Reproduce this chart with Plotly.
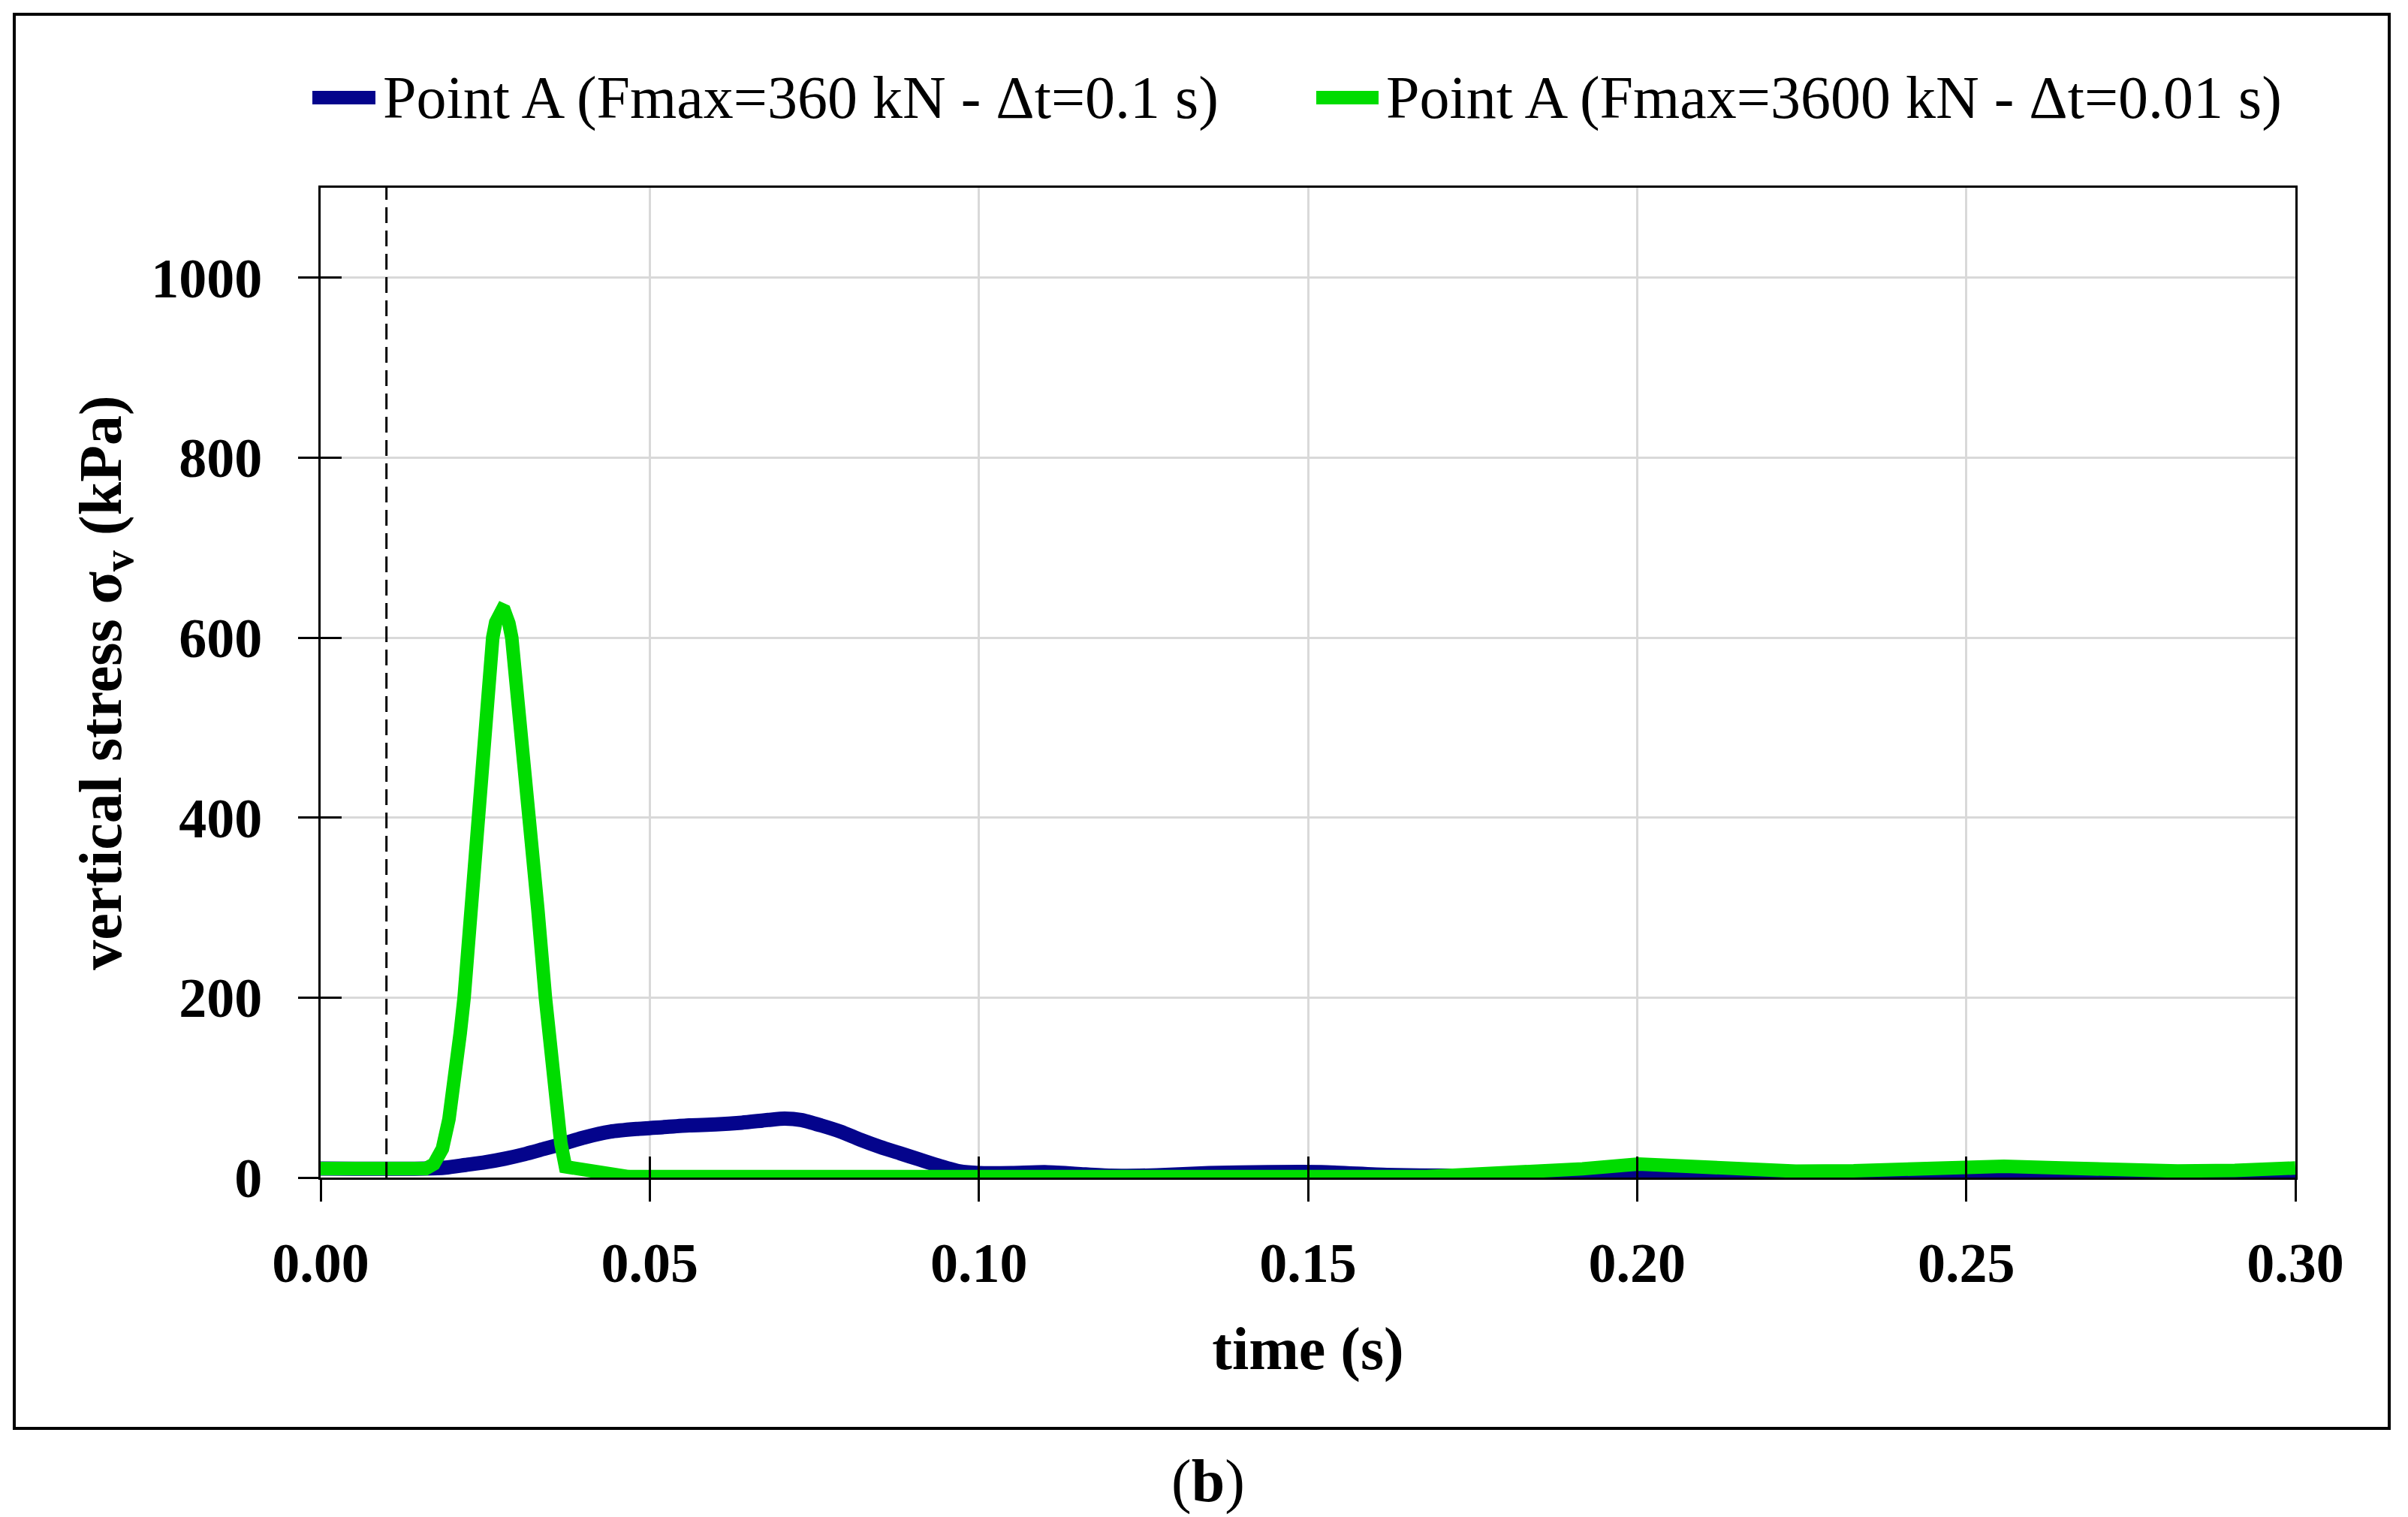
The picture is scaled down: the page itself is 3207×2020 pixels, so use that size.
import plotly.graph_objects as go

# ---------------- data ----------------
series_names = ["Point A (Fmax=360 kN - Δt=0.1 s)", "Point A (Fmax=3600 kN - Δt=0.01 s)"]
series_colors = ["#04048C", "#00DC00"]

t_blue = [0, 0.016, 0.019, 0.022, 0.025, 0.028, 0.031, 0.034, 0.037, 0.040, 0.044,
          0.048, 0.052, 0.056, 0.060, 0.064, 0.068, 0.0705, 0.073, 0.076, 0.079,
          0.082, 0.085, 0.088, 0.091, 0.094, 0.097, 0.100, 0.105, 0.110, 0.115,
          0.120, 0.127, 0.135, 0.144, 0.152, 0.162, 0.172, 0.180, 0.190, 0.200,
          0.210, 0.225, 0.240, 0.255, 0.270, 0.280, 0.290, 0.300]
sv_blue = [10, 10, 11, 14, 17, 21, 26, 32, 38, 44.5, 51,
           54, 56, 58, 59, 61, 64, 65.5, 64, 58, 51,
           42, 34, 27, 20, 13, 7, 5, 5, 6, 4,
           2, 2.5, 5, 6, 6, 3, 2, 2, 3, 5.4,
           4, 2, 2.5, 3.5, 2.5, 2, 2.5, 3]

t_green = [0, 0.016, 0.0172, 0.0185, 0.0195, 0.0203, 0.0212, 0.0218, 0.0228, 0.0238,
           0.0250, 0.02615, 0.0266, 0.0270, 0.0273, 0.0276, 0.0279, 0.0282, 0.0286,
           0.02904, 0.0305, 0.0319, 0.0330, 0.03415, 0.0355, 0.0365, 0.0372, 0.0420,
           0.0468, 0.1680, 0.1776, 0.1917, 0.2002, 0.2100, 0.2170, 0.2241, 0.2329,
           0.2408, 0.2470, 0.2557, 0.2645, 0.2716, 0.2821, 0.2908, 0.3000]
sv_green = [10, 10, 15, 32, 65, 100, 160, 200, 298, 400,
            501, 600, 617, 626, 630, 631, 630, 626, 616,
            600, 501, 400, 298, 200, 95, 38, 12, 6,
            1, 1, 3.3, 9.7, 15, 11.5, 8.3, 7, 7.5,
            10, 11.7, 12.5, 10.6, 8.6, 7.2, 8, 10.6]

t_ref = [0.01, 0.01]          # dashed marker line (load start)
sv_ref = [0, 1100]

x_ticks = [0.00, 0.05, 0.10, 0.15, 0.20, 0.25, 0.30]
x_ticklabels = ["0.00", "0.05", "0.10", "0.15", "0.20", "0.25", "0.30"]
y_ticks = [0, 200, 400, 600, 800, 1000]
y_ticklabels = ["0", "200", "400", "600", "800", "1000"]

x_title = "time (s)"
y_title = "vertical stress σ<sub>v</sub> (kPa)"
caption = "(<b>b</b>)"

# ---------------- figure ----------------
W, H = 3207, 2020
ML, MR, MT, MB = 427, 150, 250, 452
PW, PH = W - ML - MR, H - MT - MB

def px(xp):
    return (xp - ML) / PW

def py(yp):
    return (H - MB - yp) / PH

FONT = "Liberation Serif, Times New Roman, serif"

fig = go.Figure()

fig.add_trace(go.Scatter(x=t_blue, y=sv_blue, mode="lines", name=series_names[0],
                         line=dict(color=series_colors[0], width=19, shape="spline",
                                   smoothing=0.6),
                         showlegend=False))
fig.add_trace(go.Scatter(x=t_green, y=sv_green, mode="lines", name=series_names[1],
                         line=dict(color=series_colors[1], width=18),
                         showlegend=False))
fig.add_trace(go.Scatter(x=t_ref, y=sv_ref, mode="lines", name="ref",
                         line=dict(color="black", width=3, dash="21px,10px"),
                         showlegend=False, hoverinfo="skip"))
# invisible trace on overlay axes (inside tick marks)
fig.add_trace(go.Scatter(x=t_ref, y=sv_ref, mode="lines", xaxis="x2", yaxis="y2",
                         line=dict(width=1, color="rgba(0,0,0,0)"),
                         showlegend=False, hoverinfo="skip"))

tickfont = dict(family=FONT, size=74, color="black", weight="bold")
titlefont = dict(family=FONT, size=80, color="black", weight="bold")

fig.update_layout(
    width=W, height=H,
    margin=dict(l=ML, r=MR, t=MT, b=MB),
    paper_bgcolor="white", plot_bgcolor="white",
    xaxis=dict(range=[0, 0.30], tickvals=x_ticks, ticktext=x_ticklabels,
               showgrid=True, gridcolor="#D9D9D9", gridwidth=3, zeroline=False,
               showline=True, linecolor="black", linewidth=3, mirror=True,
               ticks="outside", ticklen=29, tickwidth=3, tickcolor="black",
               tickfont=tickfont, ticklabelstandoff=18,
               title=dict(text=x_title, font=titlefont, standoff=46)),
    yaxis=dict(range=[0, 1100], tickvals=y_ticks, ticktext=y_ticklabels,
               showgrid=True, gridcolor="#D9D9D9", gridwidth=3, zeroline=False,
               showline=True, linecolor="black", linewidth=3, mirror=True,
               ticks="outside", ticklen=27, tickwidth=3, tickcolor="black",
               tickfont=tickfont, ticklabelstandoff=33,
               title=dict(text=y_title, font=titlefont, standoff=14)),
    xaxis2=dict(range=[0, 0.30], tickvals=x_ticks, overlaying="x", anchor="y",
                showgrid=False, zeroline=False, showline=False,
                ticks="inside", ticklen=28, tickwidth=3, tickcolor="black",
                showticklabels=False),
    yaxis2=dict(range=[0, 1100], tickvals=y_ticks, overlaying="y", anchor="x",
                showgrid=False, zeroline=False, showline=False,
                ticks="inside", ticklen=28, tickwidth=3, tickcolor="black",
                showticklabels=False),
    showlegend=False,
)

# outer frame
fig.add_shape(type="rect", xref="paper", yref="paper",
              x0=px(19), x1=px(3182), y0=py(1902), y1=py(19),
              line=dict(color="black", width=4), fillcolor="rgba(0,0,0,0)", layer="above")

# custom legend (long line symbols)
leg_y = py(130)
leg_items = [(408, 508), (1745, 1844)]
for name, color, (a, b) in zip(series_names, series_colors, leg_items):
    fig.add_shape(type="line", xref="paper", yref="paper",
                  x0=px(a + 8), x1=px(b - 8), y0=leg_y, y1=leg_y,
                  line=dict(color=color, width=18))
    fig.add_annotation(x=px(b), y=leg_y, xref="paper", yref="paper",
                       text=name, showarrow=False, xanchor="left", yanchor="middle",
                       font=dict(family=FONT, size=80, color="black"))

# caption
fig.add_annotation(x=px(1609), y=py(1972), xref="paper", yref="paper",
                   text=caption, showarrow=False, xanchor="center", yanchor="middle",
                   font=dict(family=FONT, size=80, color="black"))

fig.write_html("out.html", config={"displayModeBar": False},
               post_script="document.body.style.margin='0px';")
